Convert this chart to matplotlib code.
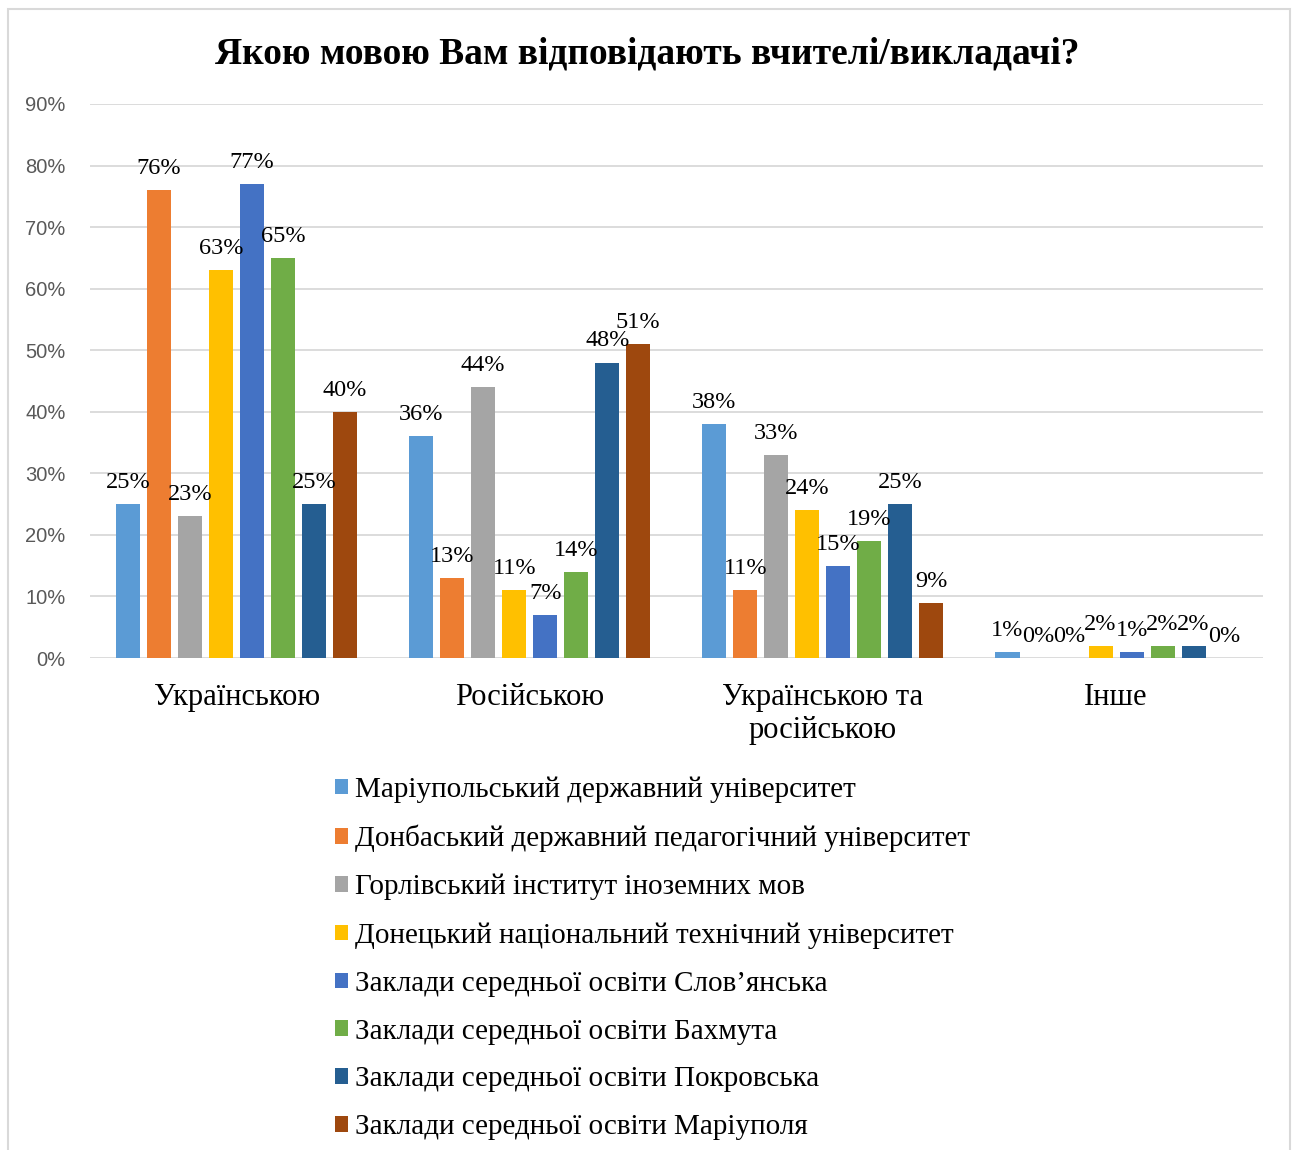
import matplotlib.pyplot as plt
import numpy as np
from matplotlib.patches import Rectangle, Patch

categories = ["Українською", "Російською", "Українською та\nросійською", "Інше"]
series_names = [
    "Маріупольський державний університет",
    "Донбаський державний педагогічний університет",
    "Горлівський інститут іноземних мов",
    "Донецький національний технічний університет",
    "Заклади середньої освіти Слов’янська",
    "Заклади середньої освіти Бахмута",
    "Заклади середньої освіти Покровська",
    "Заклади середньої освіти Маріуполя",
]
mariupol_univ = [25, 36, 38, 1]
donbas_ped = [76, 13, 11, 0]
horlivka = [23, 44, 33, 0]
donetsk_tech = [63, 11, 24, 2]
sloviansk = [77, 7, 15, 1]
bakhmut = [65, 14, 19, 2]
pokrovsk = [25, 48, 25, 2]
mariupol_schools = [40, 51, 9, 0]
series = [mariupol_univ, donbas_ped, horlivka, donetsk_tech,
          sloviansk, bakhmut, pokrovsk, mariupol_schools]
colors = ["#5B9BD5", "#ED7D31", "#A5A5A5", "#FFC000",
          "#4472C4", "#70AD47", "#255E91", "#9E480E"]

serif = "Liberation Serif"

fig = plt.figure(figsize=(12.95, 11.5), dpi=100)
ax = fig.add_axes([0.0695, 0.4278, 0.9055, 0.4818])

x = np.arange(len(categories))
step = 0.1058
width = 0.082
for i, (vals, col) in enumerate(zip(series, colors)):
    pos = x + (i - 3.5) * step
    ax.bar(pos, vals, width=width, color=col, zorder=3)
    for px, v in zip(pos, vals):
        ax.annotate(f"{v}%", (px, v), xytext=(0, 8), textcoords="offset points",
                    ha="center", va="bottom", fontsize=17.5, family=serif, zorder=4)

ax.set_xlim(-0.5, 3.5)
ax.set_ylim(0, 90)
ax.set_yticks(range(0, 91, 10))
ax.set_yticklabels([f"{t}%" for t in range(0, 91, 10)], family="Liberation Sans",
                   fontsize=14.5, color="#595959")
ax.set_xticks(x)
ax.set_xticklabels(categories, family=serif, fontsize=22, linespacing=1.2)
ax.tick_params(axis="x", length=0, pad=18)
ax.tick_params(axis="y", length=0, pad=17.5)
ax.grid(axis="y", color="#D9D9D9", linewidth=1.3, zorder=0)
for s in ax.spines.values():
    s.set_visible(False)

fig.text(0.5, 0.953, "Якою мовою Вам відповідають вчителі/викладачі?",
         ha="center", va="center", fontsize=27, fontweight="bold", family=serif)

handles = [Patch(facecolor=c) for c in colors]
fig.legend(handles, series_names, loc="upper left", bbox_to_anchor=(0.2587, 0.325),
           frameon=False, prop={"family": serif, "size": 21},
           handlelength=0.45, handleheight=0.45, handletextpad=0.24,
           labelspacing=0.75, borderaxespad=0, borderpad=0)

fig.patches.append(Rectangle((8 / 1295, -0.01), 1282 / 1295, 1 - 9 / 1150 + 0.01,
                             transform=fig.transFigure, fill=False,
                             edgecolor="#D9D9D9", linewidth=1.5))

fig.savefig("out.png", dpi=100)
